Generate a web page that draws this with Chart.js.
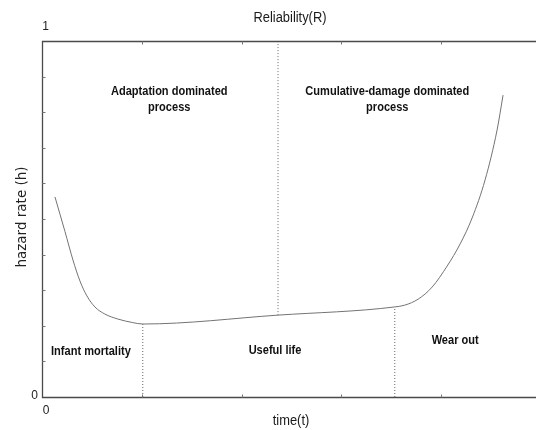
<!DOCTYPE html>
<html>
<head>
<meta charset="utf-8">
<script src="https://cdn.jsdelivr.net/npm/chart.js@4"></script>
<style>
  html, body { margin: 0; padding: 0; background: #fff; }
  #wrap { width: 536px; height: 430px; position: relative; }
</style>
</head>
<body>
<div id="wrap"><canvas id="c" width="536" height="430"></canvas></div>
<script>
// ---- data ----
const curveT = [0.026, 0.046, 0.062, 0.076, 0.090, 0.106, 0.126, 0.152, 0.182, 0.202, 0.473, 0.707, 0.727, 0.754, 0.782, 0.812, 0.838, 0.862, 0.888, 0.912, 0.924];
const curveH = [0.562, 0.465, 0.385, 0.326, 0.284, 0.253, 0.233, 0.219, 0.209, 0.205, 0.230, 0.253, 0.258, 0.275, 0.309, 0.368, 0.430, 0.503, 0.610, 0.750, 0.848];

const dividerT    = [0.202, 0.473, 0.707];
const dividerFrom = [0.000, 0.230, 0.000];
const dividerTo   = [0.205, 1.000, 0.253];

const regionTexts = [
  ['Adaptation dominated', 'process'],
  ['Cumulative-damage dominated', 'process'],
  ['Infant mortality'],
  ['Useful life'],
  ['Wear out']
];
const regionT = [0.255, 0.692, 0.098, 0.467, 0.828];
const regionH = [0.857, 0.857, 0.129, 0.132, 0.160];

const xTickValues = [0, 0.2, 0.4, 0.6, 0.8, 1.0];
const yTickValues = [0, 0.1, 0.2, 0.3, 0.4, 0.5, 0.6, 0.7, 0.8, 0.9, 1.0];
const xTickLabels = ['0', '1'];
const yTickLabels = ['0', '1'];

const titleText = 'Reliability(R)';
const xTitle = 'time(t)';
const yTitle = 'hazard rate (h)';

// ---- build datasets ----
const datasets = [{
  data: curveT.map((t, i) => ({ x: t, y: curveH[i] })),
  borderColor: '#737373',
  borderWidth: 1,
  pointRadius: 0,
  cubicInterpolationMode: 'monotone',
  fill: false
}];
dividerT.forEach((t, i) => {
  datasets.push({
    data: [{ x: t, y: dividerFrom[i] }, { x: t, y: dividerTo[i] }],
    borderColor: '#666',
    borderWidth: 1,
    borderDash: [1, 2],
    pointRadius: 0,
    fill: false
  });
});

function condensedText(ctx, text, x, y, font, scaleX) {
  ctx.save();
  ctx.font = font;
  ctx.translate(x, y);
  ctx.scale(scaleX, 1);
  ctx.fillText(text, 0, 0);
  ctx.restore();
}

const decor = {
  id: 'decor',
  afterDatasetsDraw(chart) {
    const ctx = chart.ctx;
    const xs = chart.scales.x, ys = chart.scales.y;
    const a = chart.chartArea;
    const L = Math.round(a.left) + 0.5, T = Math.round(a.top) + 0.5, B = Math.round(a.bottom) + 0.5;
    ctx.save();
    // frame
    ctx.strokeStyle = '#4a4a4a';
    ctx.lineWidth = 1.3;
    ctx.beginPath();
    ctx.moveTo(chart.width, T); ctx.lineTo(L, T); ctx.lineTo(L, B); ctx.lineTo(chart.width, B);
    ctx.stroke();
    // inward ticks
    ctx.lineWidth = 1;
    ctx.strokeStyle = '#777';
    ctx.beginPath();
    xTickValues.forEach(v => {
      if (v === 0) return;
      const px = Math.round(xs.getPixelForValue(v)) + 0.5;
      if (px > chart.width) return;
      ctx.moveTo(px, T); ctx.lineTo(px, T + 3);
      ctx.moveTo(px, B); ctx.lineTo(px, B - 3);
    });
    yTickValues.forEach(v => {
      if (v === 0 || v === 1) return;
      const py = Math.round(ys.getPixelForValue(v)) + 0.5;
      ctx.moveTo(L, py); ctx.lineTo(L + 3, py);
    });
    ctx.stroke();

    // tick labels
    ctx.fillStyle = '#222';
    ctx.font = '12px "Liberation Sans", Arial, sans-serif';
    ctx.textAlign = 'center';
    ctx.textBaseline = 'middle';
    ctx.fillText(yTickLabels[0], L - 8, ys.getPixelForValue(0) - 1);
    ctx.fillText(yTickLabels[1], L + 3, ys.getPixelForValue(1) - 14);
    ctx.fillText(xTickLabels[0], xs.getPixelForValue(0) + 4, B + 13);
    ctx.fillText(xTickLabels[1], xs.getPixelForValue(1), B + 13);

    // titles
    ctx.fillStyle = '#1a1a1a';
    condensedText(ctx, titleText, 290, 18, '14px "Liberation Sans", Arial, sans-serif', 0.92);
    condensedText(ctx, xTitle, 291, 421, '14px "Liberation Sans", Arial, sans-serif', 0.92);
    ctx.save();
    ctx.translate(22, 217);
    ctx.rotate(-Math.PI / 2);
    ctx.font = '13.5px "DejaVu Sans", sans-serif';
    ctx.fillStyle = '#222';
    ctx.fillText(yTitle, 0, 0);
    ctx.restore();

    // region annotations
    ctx.fillStyle = '#111';
    regionTexts.forEach((lines, i) => {
      const cx = xs.getPixelForValue(regionT[i]);
      const cy = ys.getPixelForValue(regionH[i]);
      lines.forEach((ln, j) => {
        condensedText(ctx, ln, cx, cy + j * 16, 'bold 13px "Liberation Sans", Arial, sans-serif', 0.85);
      });
    });
    ctx.restore();
  }
};

new Chart(document.getElementById('c'), {
  type: 'line',
  data: { datasets },
  options: {
    responsive: false,
    animation: false,
    layout: { padding: { left: 42, top: 41, right: 0, bottom: 33 } },
    plugins: { legend: { display: false }, tooltip: { enabled: false }, title: { display: false } },
    scales: {
      x: { type: 'linear', min: 0, max: 0.99, display: false },
      y: { type: 'linear', min: 0, max: 1, display: false }
    }
  },
  plugins: [decor]
});
</script>
</body>
</html>
